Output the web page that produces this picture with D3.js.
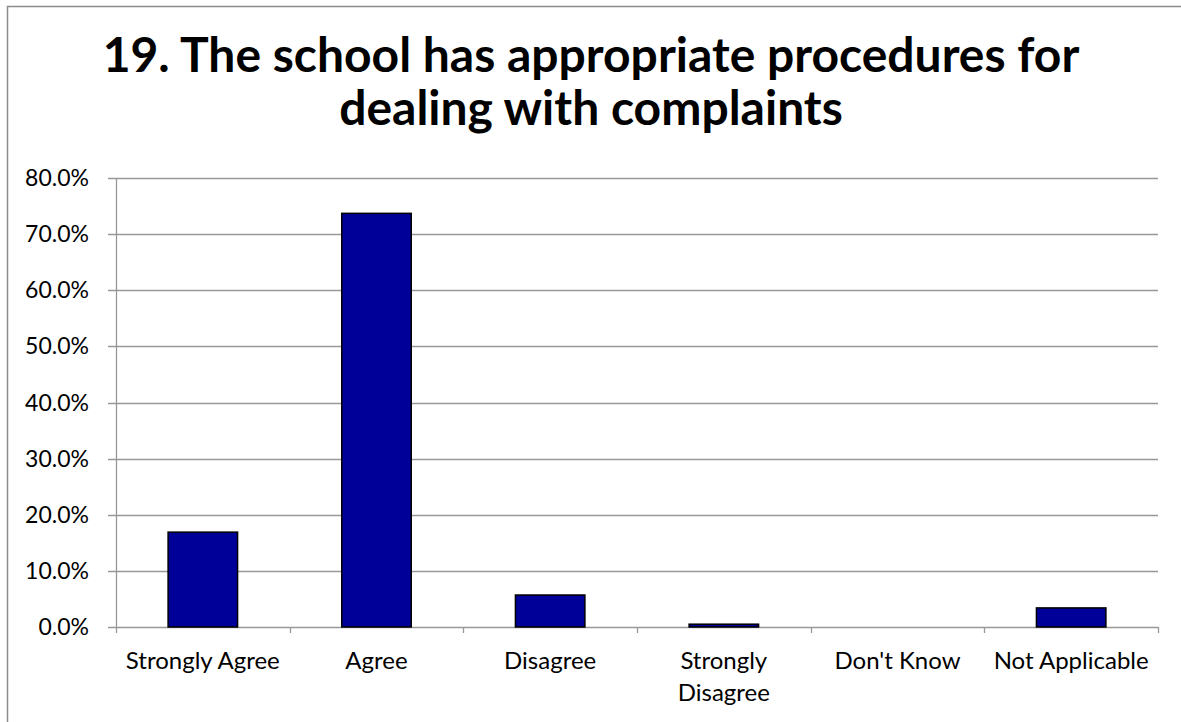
<!DOCTYPE html>
<html><head><meta charset="utf-8">
<script src="https://cdn.jsdelivr.net/npm/d3@7"></script>
<style>body{margin:0;background:#fff}svg{display:block}</style>
</head><body>
<svg id="c" width="1181" height="722"></svg>
<script>
const categories = ["Strongly Agree","Agree","Disagree","Strongly Disagree","Don't Know","Not Applicable"];
const values = [0.169, 0.737, 0.057, 0.005, 0.0, 0.034];
const yTicks = [0,0.1,0.2,0.3,0.4,0.5,0.6,0.7,0.8];
const titleLines = ["19. The school has appropriate procedures for","dealing with complaints"];

const svg = d3.select("#c");
const font = "Lato, 'Open Sans', sans-serif";
svg.append("rect").attr("x",7.5).attr("y",6.5).attr("width",1180).attr("height",720)
  .attr("fill","#fff").attr("stroke","#8c8c8c").attr("stroke-width",1.5);

const L=116, R=1158, T=178, B=627;
const x = d3.scaleBand().domain(categories).range([L,R]).paddingInner(0.6).paddingOuter(0.3);
const xo = d3.scaleBand().domain(categories).range([L,R]);
const y = d3.scaleLinear().domain([0,0.8]).range([B,T]);

// gridlines
svg.append("g").selectAll("line").data(yTicks).join("line")
  .attr("x1",L-8).attr("x2",R).attr("y1",d=>Math.round(y(d))+0.5).attr("y2",d=>Math.round(y(d))+0.5)
  .attr("stroke","#989898").attr("stroke-width",1.3);
// y axis line
svg.append("line").attr("x1",L+0.5).attr("x2",L+0.5).attr("y1",T).attr("y2",B)
  .attr("stroke","#989898").attr("stroke-width",1.3);
// x ticks
const xt = categories.map(c=>xo(c)).concat([R]);
svg.append("g").selectAll("line").data(xt).join("line")
  .attr("x1",d=>Math.round(d)+0.5).attr("x2",d=>Math.round(d)+0.5).attr("y1",B).attr("y2",B+6)
  .attr("stroke","#989898").attr("stroke-width",1.3);

// y labels
svg.append("g").selectAll("text").data(yTicks).join("text")
  .attr("x",89).attr("y",d=>y(d)+8).attr("text-anchor","end")
  .attr("font-family",font).attr("font-size",23).attr("fill","#000")
  .text(d=>(d*100).toFixed(1)+"%");

// bars
svg.append("g").selectAll("rect").data(categories.map((c,i)=>({c,v:values[i]}))).join("rect")
  .attr("x",d=>x(d.c)).attr("width",x.bandwidth())
  .attr("y",d=>y(d.v)).attr("height",d=>B-y(d.v))
  .attr("fill",d=>d.v>0?"#000099":"none").attr("stroke",d=>d.v>0?"#000":"none").attr("stroke-width",1.5);

// x labels
const xl = svg.append("g");
categories.forEach(c=>{
  const lines = c==="Strongly Disagree" ? ["Strongly","Disagree"] : [c];
  lines.forEach((ln,j)=>{
    xl.append("text").attr("x",xo(c)+xo.bandwidth()/2).attr("y",669+j*32)
      .attr("text-anchor","middle").attr("font-family",font).attr("font-size",24).attr("fill","#000").text(ln);
  });
});

// title
titleLines.forEach((t,i)=>{
  svg.append("text").attr("x",591).attr("y",72+i*53).attr("text-anchor","middle")
    .attr("font-family",font).attr("font-weight","bold").attr("font-size",48).attr("fill","#000").text(t);
});
</script>
</body></html>
